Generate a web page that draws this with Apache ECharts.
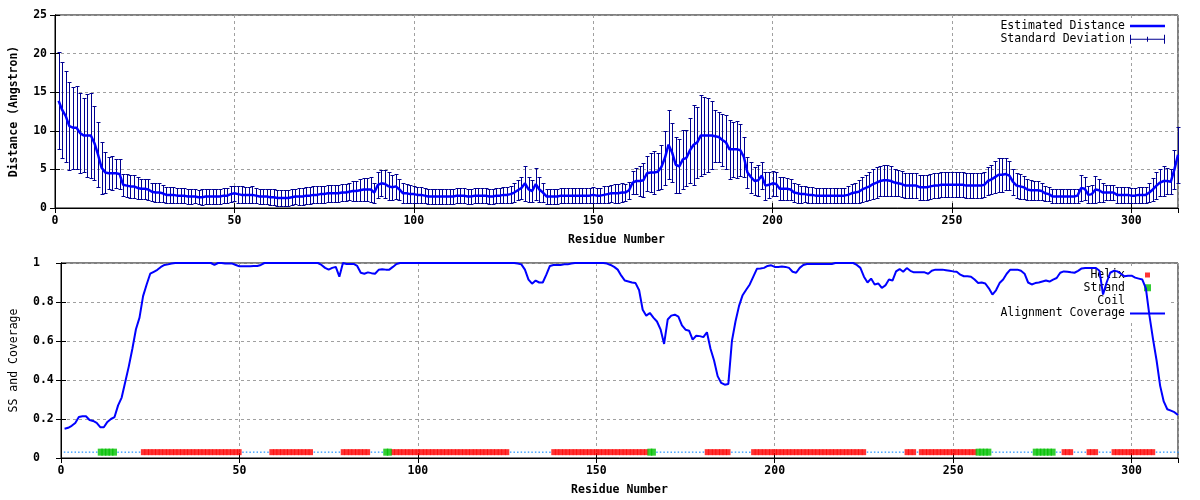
<!DOCTYPE html>
<html><head><meta charset="utf-8">
<script src="https://cdn.jsdelivr.net/npm/echarts@6/dist/echarts.min.js"></script>
<style>html,body{margin:0;padding:0;background:#fff}#c{width:1200px;height:500px}</style>
</head><body><div id="c"></div>
<script>
// ---------- DATA ----------
const xTicks = [0, 50, 100, 150, 200, 250, 300];
const residueMax = 313;

const distMean = [
 13.9,12.7,11.9,10.6,10.4,10.4,9.7,9.4,9.4,9.4,
 8.4,6.9,5.2,4.6,4.5,4.5,4.5,4.4,3.0,2.9,
 2.8,2.8,2.6,2.5,2.5,2.4,2.1,2.0,2.0,1.9,
 1.7,1.7,1.7,1.6,1.6,1.6,1.5,1.5,1.5,1.4,
 1.4,1.5,1.5,1.5,1.5,1.5,1.6,1.6,1.8,1.9,
 1.8,1.7,1.7,1.7,1.7,1.6,1.5,1.5,1.5,1.4,
 1.4,1.3,1.3,1.3,1.3,1.4,1.5,1.5,1.5,1.6,
 1.6,1.7,1.7,1.8,1.8,1.9,1.9,1.9,1.9,2.0,
 2.0,2.1,2.2,2.2,2.3,2.4,2.4,2.4,2.0,3.0,
 3.2,3.1,2.8,2.7,2.8,2.4,1.9,1.9,1.8,1.8,
 1.7,1.7,1.6,1.5,1.5,1.5,1.5,1.5,1.5,1.5,
 1.5,1.6,1.6,1.6,1.5,1.5,1.6,1.6,1.6,1.6,
 1.5,1.5,1.6,1.6,1.7,1.7,1.8,2.0,2.3,2.6,
 3.2,2.4,2.2,3.1,2.4,2.0,1.5,1.5,1.5,1.5,
 1.6,1.6,1.6,1.6,1.6,1.6,1.6,1.6,1.6,1.7,
 1.6,1.6,1.7,1.8,1.9,1.9,1.9,2.0,2.0,2.3,
 3.3,3.5,3.5,3.6,4.5,4.6,4.6,4.7,5.3,6.5,
 8.2,7.2,5.6,5.4,6.3,6.5,7.5,8.2,8.5,9.4,
 9.4,9.4,9.4,9.3,9.2,8.8,8.5,7.6,7.6,7.6,
 7.5,6.6,4.6,4.0,3.5,3.6,4.2,2.9,3.0,3.2,
 3.1,2.5,2.5,2.5,2.4,2.0,1.9,1.8,1.8,1.7,
 1.7,1.6,1.6,1.6,1.6,1.6,1.6,1.6,1.6,1.6,
 1.7,1.9,2.0,2.1,2.4,2.6,2.8,3.1,3.3,3.5,
 3.6,3.6,3.5,3.3,3.2,3.1,2.9,2.9,2.9,2.9,
 2.7,2.7,2.7,2.8,2.9,2.9,3.0,3.0,3.0,3.0,
 3.0,3.0,3.0,2.9,2.9,2.9,2.9,2.9,3.0,3.5,
 3.7,4.0,4.3,4.3,4.4,4.2,3.4,2.9,2.8,2.7,
 2.4,2.3,2.3,2.3,2.2,1.9,1.8,1.5,1.5,1.5,
 1.5,1.5,1.5,1.5,1.6,2.6,2.5,1.7,1.8,2.4,
 2.3,2.0,2.0,2.0,2.0,1.7,1.7,1.7,1.7,1.6,
 1.6,1.7,1.7,1.7,2.0,2.4,2.9,3.3,3.5,3.5,
 3.4,5.0,6.9
];

const distStd = [
 6.3,6.2,5.9,5.7,5.3,5.4,5.2,4.8,5.4,5.5,
 4.8,4.2,3.4,2.6,2.1,2.2,1.9,2.0,1.4,1.5,
 1.5,1.5,1.4,1.3,1.3,1.3,1.2,1.2,1.2,1.1,
 1.0,1.0,1.0,1.0,1.0,1.0,1.0,1.0,0.9,0.9,
 1.0,1.0,1.0,1.0,1.0,1.0,1.0,1.0,1.0,1.0,
 1.1,1.1,1.0,1.0,1.1,1.0,1.0,1.0,1.0,1.0,
 1.0,1.0,1.0,1.0,1.0,1.0,1.0,1.1,1.1,1.1,
 1.1,1.1,1.1,1.1,1.1,1.1,1.1,1.1,1.1,1.1,
 1.1,1.1,1.3,1.3,1.4,1.5,1.5,1.6,1.3,1.7,
 1.7,1.8,1.8,1.6,1.6,1.4,1.3,1.2,1.2,1.1,
 1.0,1.0,1.0,1.0,1.0,1.0,1.0,1.0,1.0,1.0,
 1.0,1.0,1.0,1.0,1.0,1.0,1.0,1.0,1.0,1.0,
 1.0,1.0,1.0,1.0,1.0,1.0,1.1,1.2,1.3,1.4,
 2.3,1.6,1.4,2.1,1.6,1.2,1.0,1.0,1.0,1.0,
 1.0,1.0,1.0,1.0,1.0,1.0,1.0,1.0,1.0,1.0,
 1.0,1.0,1.1,1.1,1.1,1.2,1.2,1.2,1.1,1.1,
 1.5,1.7,2.0,2.2,2.3,2.5,2.8,2.4,2.8,3.5,
 4.5,3.8,3.6,3.5,3.8,3.6,4.2,5.2,4.6,5.2,
 5.0,4.8,4.4,3.4,3.2,3.4,3.5,3.8,3.6,3.7,
 3.4,2.6,2.0,2.0,1.8,2.0,1.7,1.8,1.7,1.6,
 1.6,1.5,1.5,1.4,1.3,1.2,1.2,1.1,1.0,1.0,
 1.0,1.0,1.0,1.0,1.0,1.0,1.0,1.0,1.0,1.0,
 1.1,1.2,1.3,1.5,1.6,1.7,1.8,1.9,2.0,2.0,
 2.0,2.0,1.9,1.8,1.7,1.7,1.6,1.6,1.6,1.6,
 1.6,1.6,1.6,1.6,1.6,1.6,1.6,1.6,1.6,1.6,
 1.6,1.6,1.6,1.6,1.6,1.6,1.6,1.6,1.6,1.8,
 1.9,2.1,2.2,2.2,2.1,1.9,1.7,1.6,1.6,1.5,
 1.4,1.3,1.2,1.2,1.1,1.0,0.9,0.9,0.9,0.9,
 0.9,0.9,0.9,0.9,0.9,1.7,1.5,1.1,1.2,1.7,
 1.5,1.2,1.0,1.0,1.0,1.0,1.0,1.0,1.0,1.0,
 1.0,1.0,1.0,1.0,1.2,1.5,1.7,1.8,1.9,1.7,
 1.6,2.5,3.6
];

const coverage = [
 0.150,0.155,0.165,0.180,0.210,0.214,0.214,0.195,0.190,0.180,
 0.158,0.158,0.185,0.200,0.210,0.270,0.310,0.390,0.470,0.560,
 0.660,0.720,0.830,0.890,0.945,0.955,0.965,0.980,0.990,0.993,
 0.997,1,1,1,1,1,1,1,1,1,
 1,1,0.990,1,1,0.997,0.997,0.997,0.990,0.983,
 0.983,0.983,0.983,0.985,0.985,0.990,1,1,1,1,
 1,1,1,1,1,1,1,1,1,1,
 1,1,0.990,0.975,0.966,0.975,0.980,0.930,1,0.995,
 0.995,0.995,0.985,0.950,0.945,0.952,0.948,0.945,0.965,0.968,
 0.966,0.966,0.980,0.995,1,1,1,1,1,1,
 1,1,1,1,1,1,1,1,1,1,
 1,1,1,1,1,1,1,1,1,1,
 1,1,1,1,1,1,1,0.997,0.993,0.966,
 0.915,0.894,0.910,0.900,0.900,0.940,0.985,0.990,0.990,0.990,
 0.993,0.993,0.997,1,1,1,1,1,1,1,
 1,1,0.997,0.990,0.980,0.966,0.935,0.910,0.905,0.900,
 0.897,0.860,0.760,0.730,0.744,0.720,0.700,0.660,0.585,0.710,
 0.730,0.735,0.725,0.680,0.658,0.653,0.607,0.627,0.625,0.620,
 0.645,0.560,0.500,0.420,0.385,0.376,0.380,0.600,0.700,0.780,
 0.835,0.863,0.890,0.930,0.970,0.972,0.975,0.985,0.988,0.980,
 0.980,0.982,0.980,0.975,0.955,0.950,0.975,0.990,0.995,0.995,
 0.995,0.995,0.995,0.995,0.995,0.995,1,1,1,1,
 1,1,0.990,0.975,0.930,0.900,0.920,0.890,0.895,0.872,
 0.885,0.915,0.910,0.957,0.969,0.955,0.974,0.960,0.952,0.952,
 0.952,0.952,0.945,0.960,0.966,0.966,0.966,0.963,0.960,0.957,
 0.955,0.940,0.932,0.932,0.930,0.915,0.897,0.900,0.895,0.870,
 0.838,0.860,0.897,0.915,0.945,0.966,0.966,0.966,0.960,0.945,
 0.900,0.890,0.897,0.900,0.905,0.910,0.905,0.915,0.923,0.950,
 0.957,0.955,0.952,0.950,0.960,0.972,0.974,0.974,0.974,0.974,
 0.960,0.838,0.900,0.950,0.960,0.957,0.945,0.932,0.935,0.935,
 0.925,0.920,0.915,0.870,0.730,0.610,0.500,0.370,0.290,0.250,
 0.243,0.235,0.220
];

// secondary structure (residue ranges, inclusive); everything else is coil
const helixRanges = [[23,50],[59,70],[79,86],[93,125],[138,164],[181,187],[194,225],[237,239],[241,256],[281,283],[288,290],[295,306]];
const strandRanges = [[11,15],[91,92],[165,166],[257,260],[273,278]];
const ssLevel = 0.03;

// ---------- BUILD ----------
const FONT = "'DejaVu Sans Mono', 'Liberation Mono', monospace";
const residues = distMean.map((_, i) => i + 1);
const meanData = residues.map((r, i) => [r, distMean[i]]);
const errData = residues.map((r, i) => [r, distMean[i] - distStd[i], distMean[i] + distStd[i]]);
const covData = residues.map((r, i) => [r, coverage[i]]);

const ssType = {};
helixRanges.forEach(([a, b]) => { for (let r = a; r <= b; r++) ssType[r] = 'H'; });
strandRanges.forEach(([a, b]) => { for (let r = a; r <= b; r++) ssType[r] = 'E'; });
const helixData = [], strandData = [], coilData = [];
residues.forEach(r => {
  const t = ssType[r];
  if (t === 'H') helixData.push([r, ssLevel]);
  else if (t === 'E') strandData.push([r, ssLevel]);
  else coilData.push([r, ssLevel]);
});

function renderErr(params, api) {
  const x = api.value(0), lo = api.value(1), hi = api.value(2);
  const pLo = api.coord([x, lo]), pHi = api.coord([x, hi]);
  const cx = Math.round(pLo[0]) + 0.5;
  const yl = Math.round(pLo[1]) + 0.5, yh = Math.round(pHi[1]) + 0.5;
  const hw = 2;
  const style = { stroke: '#000090', lineWidth: 1, fill: null };
  return { type: 'group', children: [
    { type: 'line', shape: { x1: cx, y1: yl, x2: cx, y2: yh }, style },
    { type: 'line', shape: { x1: cx - hw, y1: yl, x2: cx + hw, y2: yl }, style },
    { type: 'line', shape: { x1: cx - hw, y1: yh, x2: cx + hw, y2: yh }, style }
  ]};
}

const SPECKS = 'M0,0h0.01v0.01h-0.01z M34.99,8.99h0.01v0.01h-0.01z ';
const gridLine = { show: true, lineStyle: { color: '#a0a0a0', type: [3, 3], width: 1 } };
const blackLine = { show: true, lineStyle: { color: '#000', width: 1 } };
const tickIn = { show: true, inside: true, length: 5, lineStyle: { color: '#000' } };
const labelBold = { fontFamily: FONT, fontSize: 11.5, fontWeight: 'bold', color: '#000' };

function xAxes(gi) {
  return [
    { gridIndex: gi, type: 'value', min: 0, max: residueMax, interval: 50, position: 'bottom',
      axisLine: blackLine, axisTick: tickIn, splitLine: gridLine,
      axisLabel: Object.assign({ margin: 7, showMaxLabel: false,
        formatter: v => xTicks.indexOf(v) >= 0 ? String(v) : '' }, labelBold),
      name: 'Residue Number', nameLocation: 'middle', nameGap: 26,
      nameTextStyle: { fontFamily: FONT, fontSize: 11.5, fontWeight: 'bold', color: '#000' } },
    { gridIndex: gi, type: 'value', min: 0, max: residueMax, interval: 50, position: 'top',
      axisLine: blackLine, axisTick: tickIn, splitLine: { show: false }, axisLabel: { show: false } }
  ];
}

const option = {
  animation: false,
  backgroundColor: '#fff',
  textStyle: { fontFamily: FONT },
  grid: [
    { left: 52, right: 22, top: 15, height: 193, show: true, borderColor: '#000', borderWidth: 1 },
    { left: 58, right: 22, top: 263, height: 195, show: true, borderColor: '#000', borderWidth: 1 }
  ],
  legend: [
    { orient: 'vertical', right: 29, top: 19, align: 'right', padding: [1, 6, 1, 6],
      itemWidth: 35, itemHeight: 9, itemGap: 1.3, z: 1, backgroundColor: '#fff',
      textStyle: { fontFamily: FONT, fontSize: 11.5, color: '#000', lineHeight: 12 },
      data: [
        { name: 'Estimated Distance', icon: 'path://' + SPECKS + 'M0,3.25h35v2.5h-35z', itemStyle: { color: '#0000ff' } },
        { name: 'Standard Deviation', icon: 'path://M0,0h1v9h-1z M1,4h33v1h-33z M34,0h1v9h-1z M17,2h1v5h-1z', itemStyle: { color: '#000090' } }
      ] },
    { orient: 'vertical', right: 29, top: 268, align: 'right', padding: [1, 6, 1, 6],
      itemWidth: 35, itemHeight: 9, itemGap: 0.8, z: 1, backgroundColor: '#fff',
      textStyle: { fontFamily: FONT, fontSize: 11.5, color: '#000', lineHeight: 12 },
      data: [
        { name: 'Helix', icon: 'path://' + SPECKS + 'M15,2h5v5h-5z' },
        { name: 'Strand', icon: 'path://' + SPECKS + 'M14,1h7v7h-7z' },
        { name: 'Coil', icon: 'path://' + SPECKS },
        { name: 'Alignment Coverage', icon: 'path://' + SPECKS + 'M0,3.5h35v2h-35z', itemStyle: { color: '#0000ff' } }
      ] }
  ],
  xAxis: xAxes(0).concat(xAxes(1)),
  yAxis: [
    { gridIndex: 0, type: 'value', min: 0, max: 25, interval: 5, position: 'left',
      axisLine: blackLine, axisTick: tickIn, splitLine: gridLine,
      axisLabel: Object.assign({ margin: 8 }, labelBold),
      name: 'Distance (Angstron)', nameLocation: 'middle', nameGap: 35, nameRotate: 90,
      nameTextStyle: { fontFamily: FONT, fontSize: 11.5, fontWeight: 'bold', color: '#000' } },
    { gridIndex: 0, type: 'value', min: 0, max: 25, interval: 5, position: 'right',
      axisLine: blackLine, axisTick: tickIn, splitLine: { show: false }, axisLabel: { show: false } },
    { gridIndex: 1, type: 'value', min: 0, max: 1, interval: 0.2, position: 'left',
      axisLine: blackLine, axisTick: tickIn, splitLine: gridLine,
      axisLabel: Object.assign({ margin: 28, align: 'left' }, labelBold),
      name: 'SS and Coverage', nameLocation: 'middle', nameGap: 41, nameRotate: 90,
      nameTextStyle: { fontFamily: FONT, fontSize: 11.5, color: '#000' } },
    { gridIndex: 1, type: 'value', min: 0, max: 1, interval: 0.2, position: 'right',
      axisLine: blackLine, axisTick: tickIn, splitLine: { show: false }, axisLabel: { show: false } }
  ],
  series: [
    { name: 'Estimated Distance', type: 'line', xAxisIndex: 0, yAxisIndex: 0, data: meanData,
      symbol: 'none', z: 3, lineStyle: { color: '#0000ff', width: 2.5 }, itemStyle: { color: '#0000ff' } },
    { name: 'Standard Deviation', type: 'custom', xAxisIndex: 0, yAxisIndex: 0, data: errData,
      renderItem: renderErr, encode: { x: 0, y: [1, 2] }, z: 2, itemStyle: { color: '#000090' } },
    { name: 'Helix', type: 'scatter', xAxisIndex: 2, yAxisIndex: 2, data: helixData,
      symbol: 'rect', symbolSize: [4.4, 6], itemStyle: { color: '#ff0000' }, z: 3 },
    { name: 'Strand', type: 'scatter', xAxisIndex: 2, yAxisIndex: 2, data: strandData,
      symbol: 'rect', symbolSize: [5, 7], itemStyle: { color: '#00c000' }, z: 4 },
    { name: 'Coil', type: 'scatter', xAxisIndex: 2, yAxisIndex: 2, data: coilData,
      symbol: 'rect', symbolSize: [1.5, 1.5], itemStyle: { color: '#1e90ff' }, z: 2 },
    { name: 'Alignment Coverage', type: 'line', xAxisIndex: 2, yAxisIndex: 2, data: covData,
      symbol: 'none', z: 3, lineStyle: { color: '#0000ff', width: 2 }, itemStyle: { color: '#0000ff' } }
  ]
};

const chart = echarts.init(document.getElementById('c'), null, { renderer: 'canvas' });
chart.setOption(option);
</script>
</body></html>
